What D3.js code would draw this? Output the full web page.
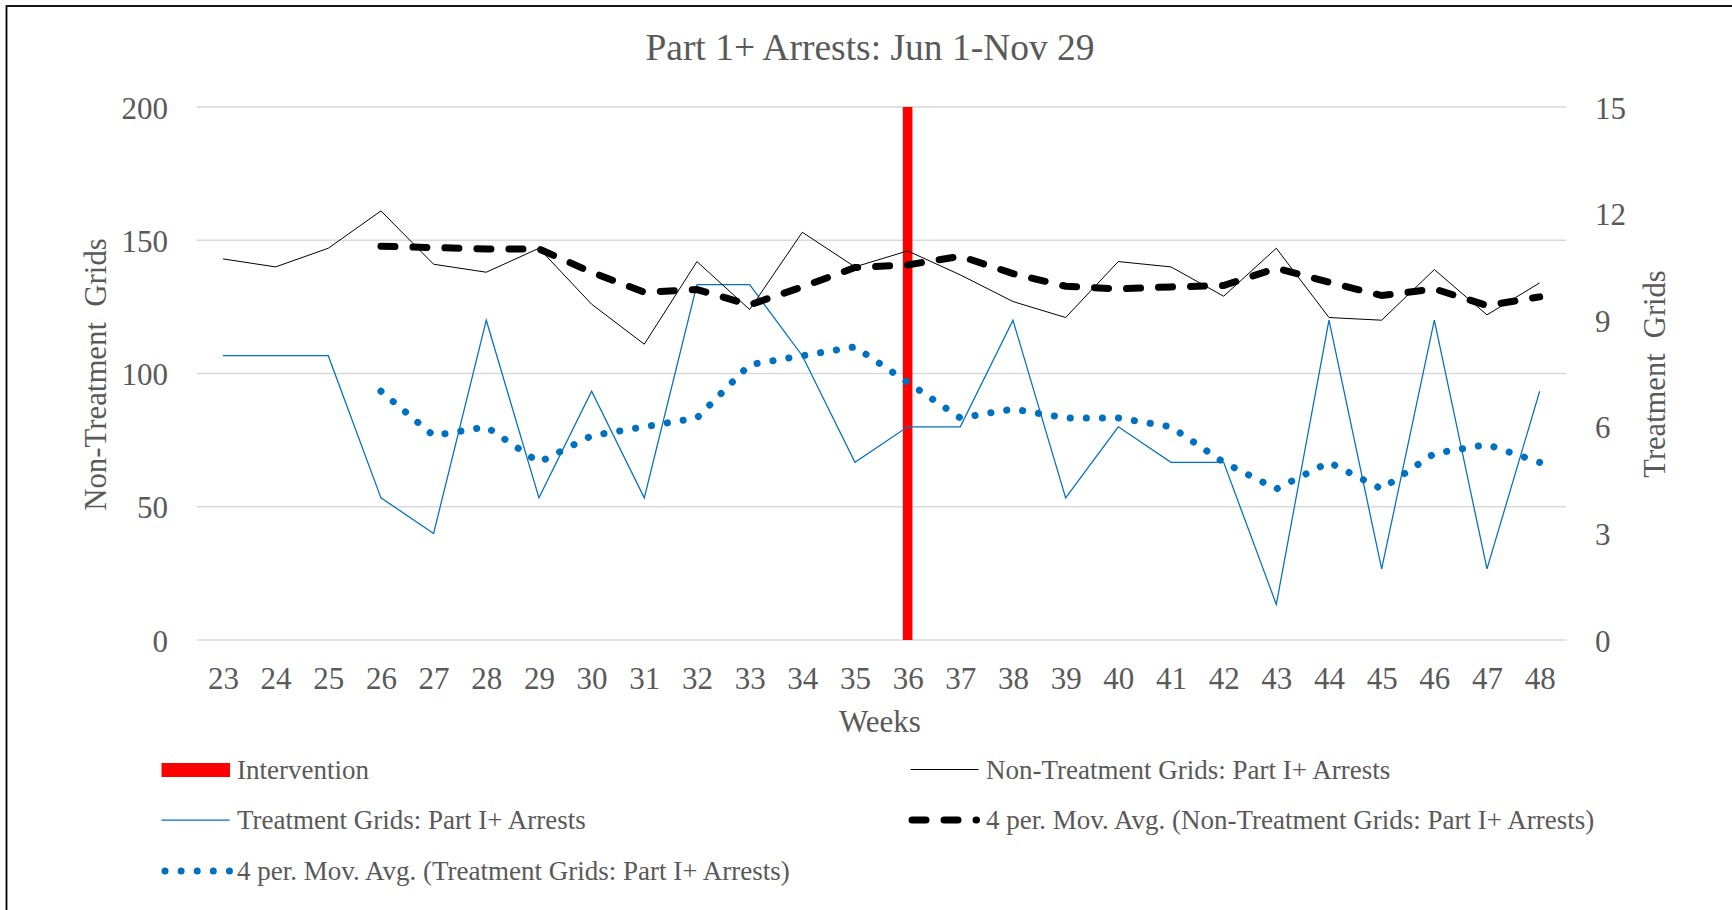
<!DOCTYPE html>
<html>
<head>
<meta charset="utf-8">
<script src="https://cdn.jsdelivr.net/npm/d3@7"></script>
<style>
  body { margin: 0; background: #fff; }
  text { font-family: "Liberation Serif", "Times New Roman", serif; fill: #595959; }
</style>
</head>
<body>
<script>
// data
var weeks = [23,24,25,26,27,28,29,30,31,32,33,34,35,36,37,38,39,40,41,42,43,44,45,46,47,48];
var nonTreatment = [143,140,147,161,141,138,147,126,111,142,124,153,140,146,137,127,121,142,140,129,147,121,120,139,122,134];
var treatment = [8,8,8,4,3,9,4,7,4,10,10,8,5,6,6,9,4,6,5,5,1,9,2,9,2,7];
var nonTreatmentAvg = [null,null,null,147.75,147.25,146.75,146.75,138,130.5,131.5,125.75,132.5,139.75,140.75,144,137.5,132.75,131.75,132.5,133,139.5,134.25,129.25,131.75,125.5,128.75];
var treatmentAvg = [null,null,null,7,5.75,6,5,5.75,6,6.25,7.75,8,8.25,7.25,6.25,6.5,6.25,6.25,6,5,4.25,5,4.25,5.25,5.5,5];
var intervention = [null,null,null,null,null,null,null,null,null,null,null,null,null,200,null,null,null,null,null,null,null,null,null,null,null,null];
var leftTicks = [0,50,100,150,200];
var rightTicks = [0,3,6,9,12,15];

var W = 1732, H = 910;
var margin = {left: 196.6, right: 166, top: 107, bottom: 270};

var svg = d3.select("body").append("svg")
    .attr("width", W)
    .attr("height", H);

// outer frame (only top/left edges visible in the crop)
svg.append("rect")
    .attr("x", 6.5).attr("y", 6)
    .attr("width", 1800).attr("height", 1000)
    .attr("fill", "none")
    .attr("stroke", "#000")
    .attr("stroke-width", 1.8);

var x = d3.scalePoint()
    .domain(weeks)
    .range([margin.left, W - margin.right])
    .padding(0.5);

var yL = d3.scaleLinear().domain([0, 200]).range([H - margin.bottom, margin.top]);
var yR = d3.scaleLinear().domain([0, 15]).range([H - margin.bottom, margin.top]);

// title
svg.append("text")
    .attr("x", 870).attr("y", 60)
    .attr("text-anchor", "middle")
    .style("font-size", "37.5px")
    .text("Part 1+ Arrests: Jun 1-Nov 29");

// gridlines
svg.append("g").selectAll("line")
    .data(leftTicks)
    .enter().append("line")
    .attr("x1", margin.left).attr("x2", W - margin.right)
    .attr("y1", function(d) { return yL(d); })
    .attr("y2", function(d) { return yL(d); })
    .attr("stroke", "#d9d9d9")
    .attr("stroke-width", 1.5);

// axes
var axisL = svg.append("g")
    .attr("transform", "translate(" + margin.left + ",0)")
    .call(d3.axisLeft(yL).tickValues(leftTicks).tickSize(0).tickPadding(28.6));
var axisR = svg.append("g")
    .attr("transform", "translate(" + (W - margin.right) + ",0)")
    .call(d3.axisRight(yR).tickValues(rightTicks).tickSize(0).tickPadding(29));
var axisB = svg.append("g")
    .attr("transform", "translate(0," + (H - margin.bottom) + ")")
    .call(d3.axisBottom(x).tickSize(0).tickPadding(26.5));

[axisL, axisR, axisB].forEach(function(a) {
    a.select(".domain").remove();
    a.selectAll("text")
        .attr("fill", "#595959")
        .style("font-size", "31px")
        .style("font-family", "'Liberation Serif', 'Times New Roman', serif");
});
axisL.selectAll("text").attr("dy", "0.36em");
axisR.selectAll("text").attr("dy", "0.36em");

// axis titles
svg.append("text")
    .attr("transform", "translate(106,374.5) rotate(-90)")
    .attr("text-anchor", "middle")
    .style("font-size", "30.8px")
    .style("white-space", "pre")
    .text("Non-Treatment  Grids");
svg.append("text")
    .attr("transform", "translate(1665,374) rotate(-90)")
    .attr("text-anchor", "middle")
    .style("font-size", "30.5px")
    .style("white-space", "pre")
    .text("Treatment  Grids");
svg.append("text")
    .attr("x", 880).attr("y", 732)
    .attr("text-anchor", "middle")
    .style("font-size", "31px")
    .text("Weeks");

// intervention bar
svg.append("g").selectAll("rect")
    .data(weeks.map(function(w, i) { return {w: w, v: intervention[i]}; })
        .filter(function(d) { return d.v != null; }))
    .enter().append("rect")
    .attr("x", function(d) { return x(d.w) - 4.8; })
    .attr("width", 9.6)
    .attr("y", function(d) { return yL(d.v); })
    .attr("height", function(d) { return yL(0) - yL(d.v); })
    .attr("fill", "#ff0000");

function series(vals) {
    return weeks.map(function(w, i) { return {w: w, v: vals[i]}; })
        .filter(function(d) { return d.v != null; });
}

var lineL = d3.line()
    .x(function(d) { return x(d.w); })
    .y(function(d) { return yL(d.v); });
var lineR = d3.line()
    .x(function(d) { return x(d.w); })
    .y(function(d) { return yR(d.v); });

// treatment (right axis)
svg.append("path")
    .datum(series(treatment))
    .attr("d", lineR)
    .attr("fill", "none")
    .attr("stroke", "#0070c0")
    .attr("stroke-width", 1.25);

// non-treatment (left axis)
svg.append("path")
    .datum(series(nonTreatment))
    .attr("d", lineL)
    .attr("fill", "none")
    .attr("stroke", "#000")
    .attr("stroke-width", 1);

// 4 per moving averages
var dotPath = svg.append("path")
    .datum(series(treatmentAvg))
    .attr("d", lineR)
    .attr("fill", "none")
    .attr("stroke", "#0070c0")
    .attr("stroke-width", 7)
    .attr("stroke-linecap", "round");
// spread the dots so one lands on each end
var len = dotPath.node().getTotalLength();
var step = len / Math.round(len / 16.1);
dotPath.attr("stroke-dasharray", "0.1 " + (step - 0.1))
    .attr("stroke-dashoffset", 0.05);

svg.append("path")
    .datum(series(nonTreatmentAvg))
    .attr("d", lineL)
    .attr("fill", "none")
    .attr("stroke", "#000")
    .attr("stroke-width", 7)
    .attr("stroke-linecap", "round")
    .attr("stroke-dasharray", "14 18");

// legend
var legendItems = [
    {label: "Intervention", type: "bar", col: 0, row: 0},
    {label: "Non-Treatment Grids: Part I+ Arrests", type: "black", col: 1, row: 0},
    {label: "Treatment Grids: Part I+ Arrests", type: "blue", col: 0, row: 1},
    {label: "4 per. Mov. Avg. (Non-Treatment Grids: Part I+ Arrests)", type: "dash", col: 1, row: 1},
    {label: "4 per. Mov. Avg. (Treatment Grids: Part I+ Arrests)", type: "dot", col: 0, row: 2}
];
var colX = [161.5, 910.5], rowY = [770, 820, 871];

var legend = svg.append("g").selectAll("g")
    .data(legendItems)
    .enter().append("g")
    .attr("transform", function(d) {
        return "translate(" + colX[d.col] + "," + rowY[d.row] + ")";
    });

legend.each(function(d) {
    var g = d3.select(this);
    if (d.type == "bar") {
        g.append("rect").attr("x", 0).attr("y", -7).attr("width", 68.5).attr("height", 14).attr("fill", "#ff0000");
    } else if (d.type == "black") {
        g.append("line").attr("x1", 0).attr("x2", 68).attr("y1", -0.5).attr("y2", -0.5)
            .attr("stroke", "#000").attr("stroke-width", 1);
    } else if (d.type == "blue") {
        g.append("line").attr("x1", 0).attr("x2", 68).attr("y1", 0).attr("y2", 0)
            .attr("stroke", "#0070c0").attr("stroke-width", 1.25);
    } else if (d.type == "dash") {
        g.append("line").attr("x1", 1.5).attr("x2", 66).attr("y1", 0).attr("y2", 0)
            .attr("stroke", "#000").attr("stroke-width", 7)
            .attr("stroke-linecap", "round").attr("stroke-dasharray", "14 18");
    } else {
        g.append("line").attr("x1", 3.5).attr("x2", 68).attr("y1", 0).attr("y2", 0)
            .attr("stroke", "#0070c0").attr("stroke-width", 7)
            .attr("stroke-linecap", "round").attr("stroke-dasharray", "0.01 16.1");
    }
    g.append("text")
        .attr("x", 75.5)
        .attr("y", 8.5)
        .style("font-size", "27px")
        .text(d.label);
});
</script>
</body>
</html>
